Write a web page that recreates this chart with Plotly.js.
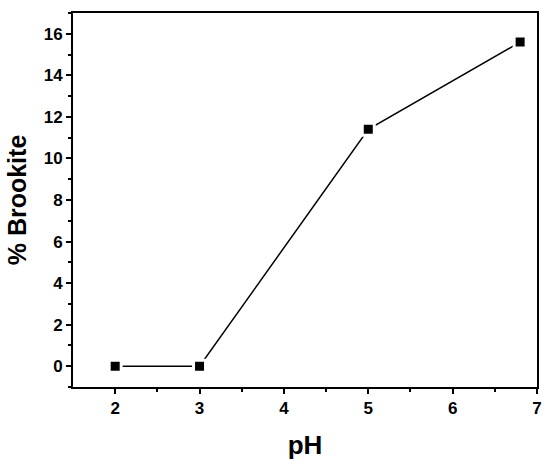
<!DOCTYPE html>
<html><head><meta charset="utf-8">
<script src="https://cdn.plot.ly/plotly-3.0.1.min.js"></script>
<style>body{margin:0;background:#fff}#c{width:550px;height:472px}</style>
</head><body><div id="c"></div>
<script>
const pH = [2, 3, 5, 6.8];
const brookite = [0, 0, 11.4, 15.6];
const xTicks = [2, 3, 4, 5, 6, 7];
const yTicks = [0, 2, 4, 6, 8, 10, 12, 14, 16];
const xMinor = [2.5, 3.5, 4.5, 5.5, 6.5];
const yMinor = [-1, 1, 3, 5, 7, 9, 11, 13, 15, 17];
const fam = 'Liberation Sans, Arial, sans-serif';
const trace = {x: pH, y: brookite, type: 'scatter', mode: 'lines+markers',
  line: {color: '#000', width: 1.5},
  marker: {symbol: 'square', size: 12, color: '#000', line: {color: '#fff', width: 3}}, cliponaxis: false};
function axis(extra) {
  return Object.assign({
    showgrid: false, zeroline: false, showline: true, linecolor: '#000', linewidth: 2,
    mirror: true, ticks: 'outside', ticklen: 5, tickwidth: 2, tickcolor: '#000',
    tickfont: {family: fam, size: 17, color: '#000', weight: 700}
  }, extra);
}
const layout = {width: 550, height: 472, margin: {l: 73, r: 13, t: 13, b: 85},
  plot_bgcolor: '#fff', paper_bgcolor: '#fff', showlegend: false,
  xaxis: axis({range: [1.5, 7], tickvals: xTicks, tickmode: 'array',
    minor: {tickvals: xMinor, ticks: 'outside', ticklen: 3, tickwidth: 2, tickcolor: '#000'},
    title: {text: 'pH', font: {family: fam, size: 26, color: '#000', weight: 700}, standoff: 18}}),
  yaxis: axis({range: [-1, 17], tickvals: yTicks, tickmode: 'array',
    minor: {tickvals: yMinor, ticks: 'outside', ticklen: 3, tickwidth: 2, tickcolor: '#000'},
    title: {text: '% Brookite', font: {family: fam, size: 25, color: '#000', weight: 700}, standoff: 10}})};
Plotly.newPlot('c', [trace], layout, {displayModeBar: false, staticPlot: true});
</script></body></html>
